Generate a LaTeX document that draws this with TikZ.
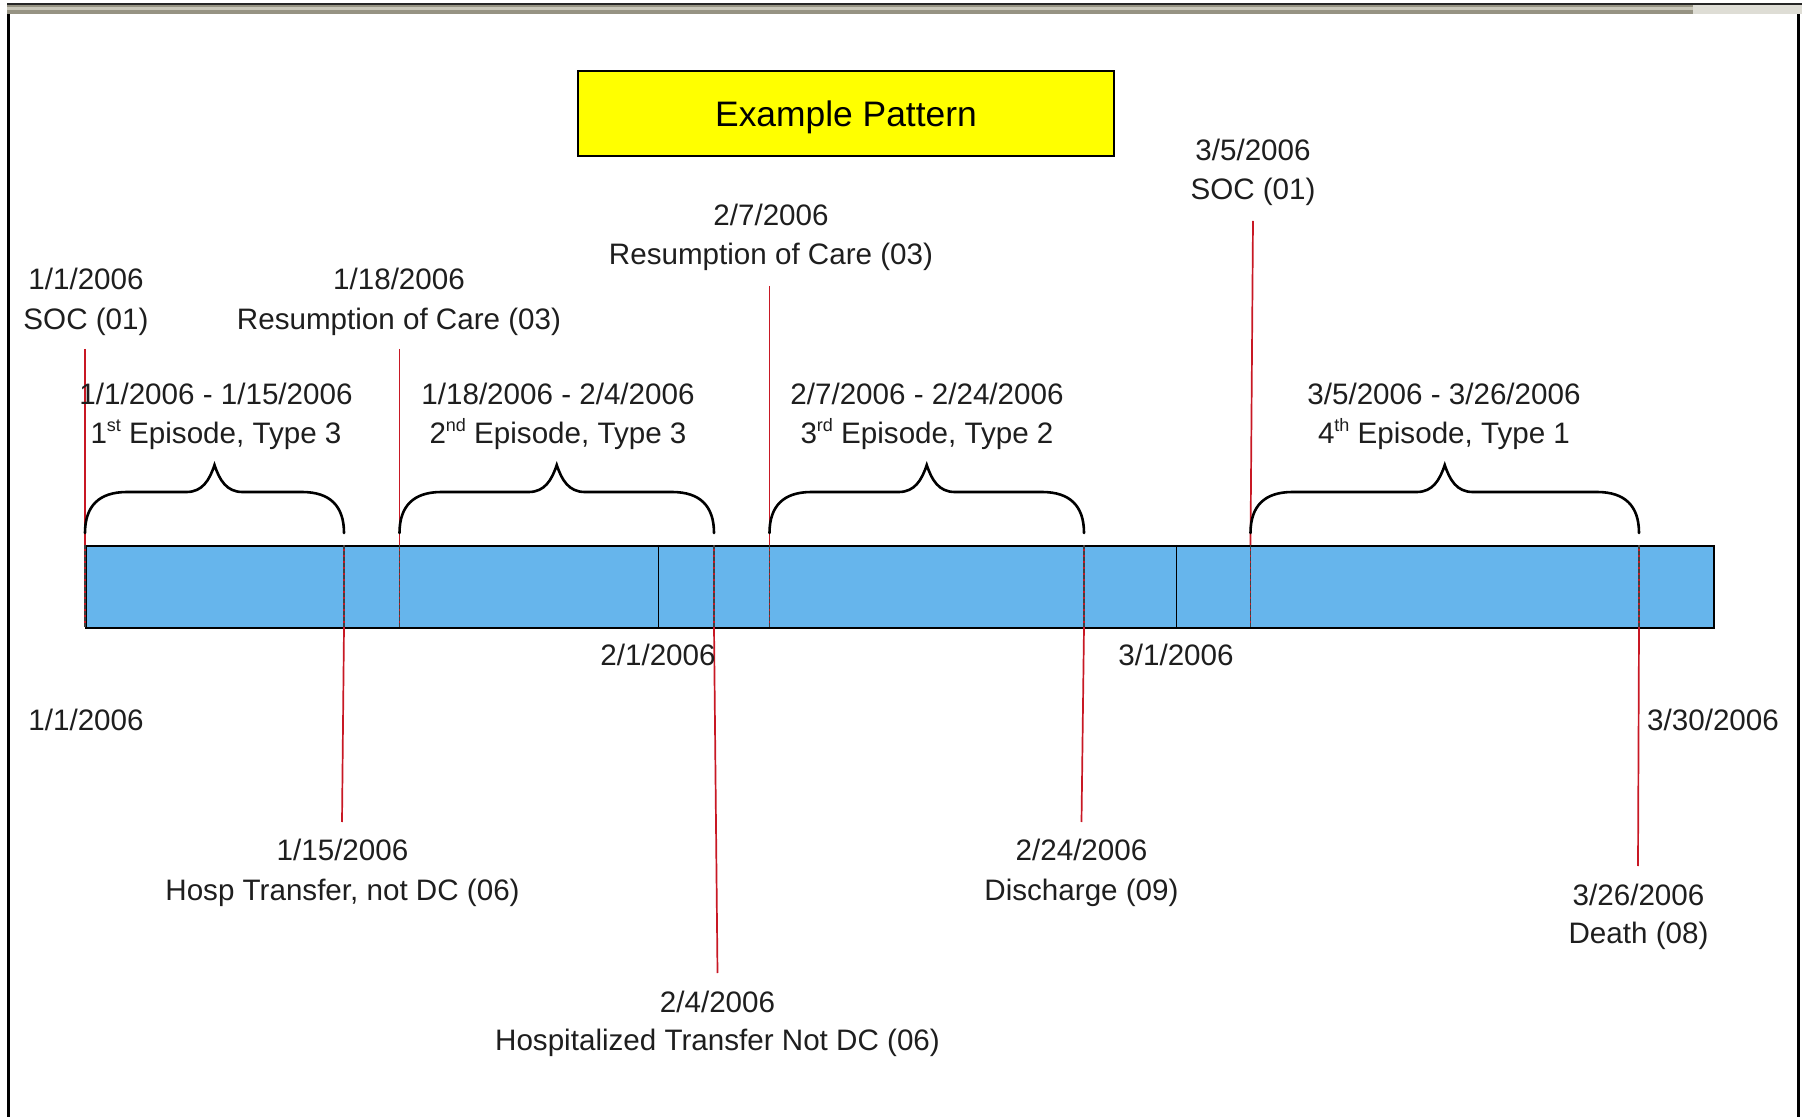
\documentclass[tikz,border=0pt]{standalone}
\usepackage{fontspec}
\setmainfont{Liberation Sans}
\definecolor{barblue}{RGB}{102,181,236}
\definecolor{evred}{RGB}{200,24,36}
\definecolor{txt}{RGB}{30,30,30}
\definecolor{bandgray}{RGB}{150,147,131}
\definecolor{bandlight}{RGB}{200,198,185}
\definecolor{titleyellow}{RGB}{255,255,0}

% episode brace: left end, tip, right end (x in px)
\newcommand\epbrace[3]{%
  \draw[bracepath] (#1,533) .. controls (#1,506) and (#1+14,492) .. (#1+42,492)
    -- (#2-28,492) .. controls (#2-12,492) and (#2-5,480) .. (#2,465)
    .. controls (#2+5,480) and (#2+12,492) .. (#2+28,492)
    -- (#3-42,492) .. controls (#3-14,492) and (#3,506) .. (#3,533);}
% small ordinal suffix
\newcommand\ordsuf[1]{\raisebox{0.42em}{\fontsize{9}{9}\selectfont #1}}

\begin{document}
\begin{tikzpicture}[x=0.5pt,y=-0.5pt,
  lbl/.style={font=\fontsize{14.8}{17}\selectfont, text=txt, anchor=base, inner sep=0pt},
  evline/.style={draw=evred, line width=0.85pt},
  evdash/.style={draw=black!75, line width=0.85pt, dash pattern=on 2pt off 1pt},
  bracepath/.style={draw=black, line width=1.3pt, line cap=round},
  monthline/.style={draw=black, line width=0.75pt},
]
\useasboundingbox (0,0) rectangle (1806,1117);

% window frame
\fill[bandgray] (7,5) rectangle (1802,14);
\fill[bandlight] (7,7.5) rectangle (1802,10);
\fill[bandlight!60!white] (1693,5) rectangle (1802,14);
\draw[black!85, line width=1pt] (7,4.5) -- (1802,4.5);
\fill[black] (7,14) rectangle (9.5,1117);
\fill[black] (1797,14) rectangle (1800,1117);

% title
\node[draw=black, line width=0.8pt, fill=titleyellow, minimum width=268pt,
      minimum height=42.5pt, inner sep=0pt, text height=14pt, text depth=1.3pt,
      font=\fontsize{17.7}{20}\selectfont]
      (title) at (846,113.5) {Example Pattern};

% time bar (1 day = 18.5 px, 1/1/2006 at x = 85)
\node[draw=black, line width=0.9pt, fill=barblue, minimum width=814pt,
      minimum height=41pt, inner sep=0pt, anchor=north west] (bar) at (85,545) {};

% event points on the bar
\coordinate (e0101t) at (85,545);    \coordinate (e0101b) at (85,627);
\coordinate (e0115t) at (344,545);   \coordinate (e0115b) at (344,627);
\coordinate (e0118t) at (399.5,545); \coordinate (e0118b) at (399.5,627);
\coordinate (e0204t) at (714,545);   \coordinate (e0204b) at (714,627);
\coordinate (e0207t) at (769.5,545); \coordinate (e0207b) at (769.5,627);
\coordinate (e0224t) at (1084,545);  \coordinate (e0224b) at (1084,627);
\coordinate (e0305t) at (1250.5,545);\coordinate (e0305b) at (1250.5,627);
\coordinate (e0326t) at (1639,545);  \coordinate (e0326b) at (1639,627);

% free ends of the event lines
\coordinate (soc1end) at (85,349);
\coordinate (roc1end) at (399.5,349);
\coordinate (roc2end) at (769.5,286);
\coordinate (soc2end) at (1253,221);
\coordinate (hosp1end) at (342,822);
\coordinate (hosp2end) at (717.5,973);
\coordinate (dischend) at (1081.5,822);
\coordinate (deathend) at (1638,866);

% event lines crossing the bar
\foreach \e in {e0101,e0115,e0118,e0204,e0207,e0224,e0305,e0326}{
  \draw[evline] (\e t) -- (\e b);
  \draw[evdash] (\e t) -- (\e b);
}

% month boundaries
\draw[monthline] (658.5,545) -- (658.5,627);
\draw[monthline] (1176.5,545) -- (1176.5,627);

% event lines above the bar
\draw[evline] (soc1end) -- (e0101t);
\draw[evline] (roc1end) -- (e0118t);
\draw[evline] (roc2end) -- (e0207t);
\draw[evline] (soc2end) -- (e0305t);
% event lines below the bar
\draw[evline] (e0115b) -- (hosp1end);
\draw[evline] (e0204b) -- (hosp2end);
\draw[evline] (e0224b) -- (dischend);
\draw[evline] (e0326b) -- (deathend);

% episode braces
\epbrace{85}{214.5}{344}
\epbrace{399.5}{556.75}{714}
\epbrace{769.5}{926.75}{1084}
\epbrace{1250.5}{1444.75}{1639}

% labels above the bar
\node[lbl] (soc1date) at (86,290) {1/1/2006};
\node[lbl] (soc1code) at (86,330) {SOC (01)};
\node[lbl] (roc1date) at (399,290) {1/18/2006};
\node[lbl] (roc1code) at (399,330) {Resumption of Care (03)};
\node[lbl] (roc2date) at (771,225.5) {2/7/2006};
\node[lbl] (roc2code) at (771,265) {Resumption of Care (03)};
\node[lbl] (soc2date) at (1253,161) {3/5/2006};
\node[lbl] (soc2code) at (1253,200) {SOC (01)};

% episode labels
\node[lbl] (ep1range) at (216,405) {1/1/2006 - 1/15/2006};
\node[lbl] (ep1name) at (216,444) {1\ordsuf{st} Episode, Type 3};
\node[lbl] (ep2range) at (558,405) {1/18/2006 - 2/4/2006};
\node[lbl] (ep2name) at (558,444) {2\ordsuf{nd} Episode, Type 3};
\node[lbl] (ep3range) at (927,405) {2/7/2006 - 2/24/2006};
\node[lbl] (ep3name) at (927,444) {3\ordsuf{rd} Episode, Type 2};
\node[lbl] (ep4range) at (1444,405) {3/5/2006 - 3/26/2006};
\node[lbl] (ep4name) at (1444,444) {4\ordsuf{th} Episode, Type 1};

% scale labels below the bar
\node[lbl] (feb1) at (658,665.5) {2/1/2006};
\node[lbl] (mar1) at (1176,665.5) {3/1/2006};
\node[lbl] (start) at (86,730) {1/1/2006};
\node[lbl] (finish) at (1713,730) {3/30/2006};

% labels of the events below the bar
\node[lbl] (hosp1date) at (342.5,860) {1/15/2006};
\node[lbl] (hosp1code) at (342.5,900) {Hosp Transfer, not DC (06)};
\node[lbl] (hosp2date) at (717.5,1012) {2/4/2006};
\node[lbl] (hosp2code) at (717.5,1050) {Hospitalized Transfer Not DC (06)};
\node[lbl] (dischdate) at (1081.5,860) {2/24/2006};
\node[lbl] (dischcode) at (1081.5,900) {Discharge (09)};
\node[lbl] (deathdate) at (1638.5,905) {3/26/2006};
\node[lbl] (deathcode) at (1638.5,943) {Death (08)};
\end{tikzpicture}
\end{document}
